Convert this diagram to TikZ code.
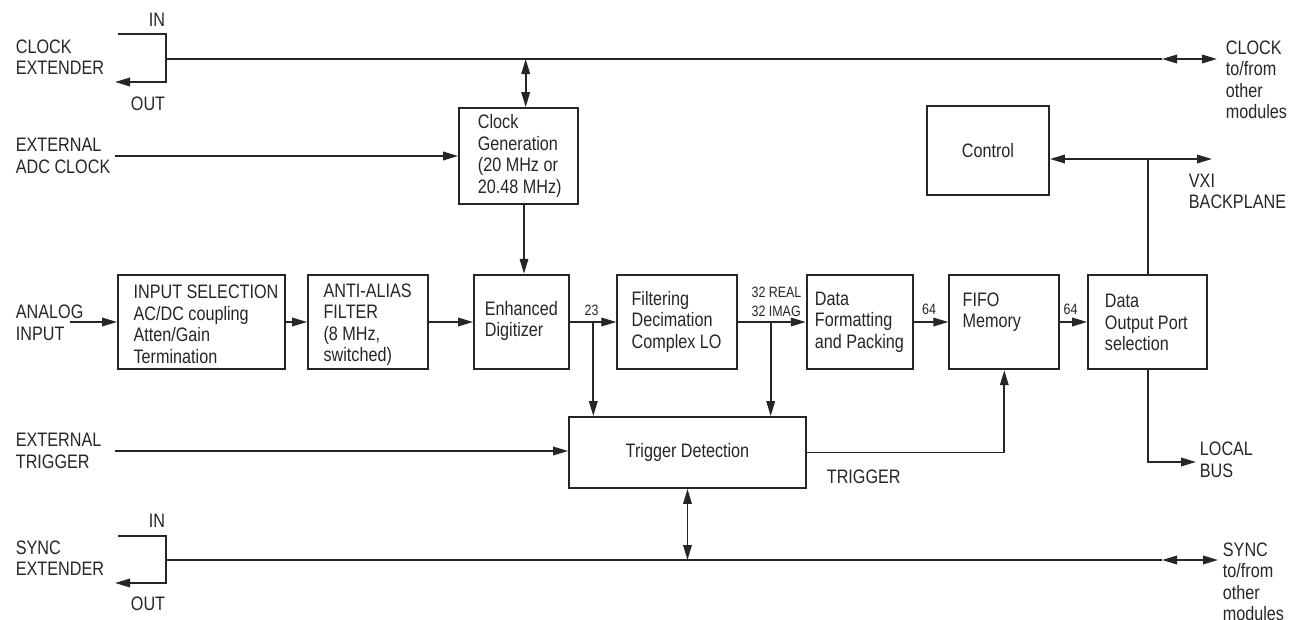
\documentclass[tikz,border=0pt]{standalone}
\usepackage{fontspec}
\setmainfont{Liberation Sans}[FakeStretch=0.83]
\usetikzlibrary{arrows.meta}
\begin{document}
\begin{tikzpicture}[x=1pt,y=-1pt, line width=1.8pt, color=black!85,
  >={Triangle[length=15pt,width=8.5pt]},
  box/.style={draw, line width=1.8pt, inner sep=0pt, anchor=center},
  txt/.style={inner sep=0pt, align=left, anchor=west, font=\fontsize{19.5}{21.5}\selectfont},
  ctxt/.style={inner sep=0pt, align=center, anchor=center, font=\fontsize{19.5}{21.5}\selectfont},
  small/.style={inner sep=0pt, align=left, anchor=center, font=\fontsize{15}{19}\selectfont}]
\useasboundingbox (0,0) rectangle (1293,619);

% boxes
\node[box, minimum width=167, minimum height=94.6] (insel) at (201.5,322) {};
\node[box, minimum width=119.7, minimum height=94.6] (aa) at (367.85,322) {};
\node[box, minimum width=95, minimum height=94.6] (dig) at (521.5,322) {};
\node[box, minimum width=119.4, minimum height=94.6] (filt) at (677,322) {};
\node[box, minimum width=106.6, minimum height=94.6] (fmt) at (860,322) {};
\node[box, minimum width=110, minimum height=94.6] (fifo) at (1004.3,322) {};
\node[box, minimum width=119.3, minimum height=94.6] (dout) at (1147.65,322) {};
\node[box, minimum width=119, minimum height=96] (cg) at (518.5,156) {};
\node[box, minimum width=122, minimum height=89, font=\fontsize{19.5}{21.5}\selectfont] (ctrl) at (988,150.5) {Control};
\node[box, minimum width=237, minimum height=71, font=\fontsize{19.5}{21.5}\selectfont] (trig) at (687.5,452.5) {Trigger Detection};

% box texts
\node[txt] (tinsel) at (132.7,324.5) {INPUT SELECTION\\AC/DC coupling\\Atten/Gain\\Termination};
\node[txt] (taa) at (322.7,324.5) {ANTI-ALIAS\\FILTER\\(8 MHz,\\switched)};
\node[txt] (tdig) at (484,321) {Enhanced\\Digitizer};
\node[txt] (tfilt) at (630.7,321.7) {Filtering\\Decimation\\Complex LO};
\node[txt] (tfmt) at (814,322) {Data\\Formatting\\and Packing};
\node[txt] (tfifo) at (961.7,312.2) {FIFO\\Memory};
\node[txt] (tdout) at (1104,322.5) {Data\\Output Port\\selection};
\node[txt] (tcg) at (477,155.75) {Clock\\Generation\\(20 MHz or\\20.48 MHz)};

% outside labels
\node[txt] (lck) at (15,57) {CLOCK\\EXTENDER};
\node[txt] (ladc) at (15,156) {EXTERNAL\\ADC CLOCK};
\node[txt] (lan) at (15,323) {ANALOG\\INPUT};
\node[txt] (ltr) at (15,451) {EXTERNAL\\TRIGGER};
\node[txt] (lsy) at (15,558) {SYNC\\EXTENDER};
\node[txt] (rck) at (1225,80) {CLOCK\\to/from\\other\\modules};
\node[txt] (rsy) at (1222,582) {SYNC\\to/from\\other\\modules};
\node[txt] (lvxi) at (1188,191.5) {VXI\\BACKPLANE};
\node[txt] (lbus) at (1199,460) {LOCAL\\BUS};
\node[txt] (ltrig) at (826,477) {TRIGGER};
\node[ctxt] (ckin) at (157,20) {IN};
\node[ctxt] (ckout) at (148,104) {OUT};
\node[ctxt] (syin) at (157,521) {IN};
\node[ctxt] (syout) at (148,604) {OUT};
\node[small] (n23) at (591.5,310) {23};
\node[small, anchor=west] (n32) at (750.7,302) {32 REAL\\32 IMAG};
\node[small] (n64a) at (929,309.3) {64};
\node[small] (n64b) at (1070.5,309.3) {64};

% coordinates
\coordinate (ckInL) at (118,34);
\coordinate (ckOutR) at (166,82);
\coordinate (ckOutL) at (115,82);
\coordinate (ckJ) at (166,59);
\coordinate (ckE) at (1162,59);
\coordinate (ckR) at (1217,59);
\coordinate (ckT) at (525.7,59);
\coordinate (cgd) at (524,204);
\coordinate (adcS) at (115,156);
\coordinate (anS) at (70,322);
\coordinate (sp1) at (593.3,322);
\coordinate (sp2) at (770.7,322);
\coordinate (trS) at (115,451);
\coordinate (syInL) at (118,536);
\coordinate (syOutR) at (166,583);
\coordinate (syOutL) at (115,583);
\coordinate (syJ) at (166,560);
\coordinate (syE) at (1162,560);
\coordinate (syR) at (1218,560);
\coordinate (vxR) at (1212,159);
\coordinate (vxJ) at (1148,159);
\coordinate (busE) at (1196,462);

% clock bus
\draw[->] (ckInL) -| (ckOutR) -- (ckOutL);
\draw (ckJ) -- (ckE);
\draw[<->] (ckE) -- (ckR);
\draw[<->] (ckT) -- (ckT |- cg.north);
\draw[->] (cgd) -- (cgd |- dig.north);
\draw[->] (adcS) -- (cg.west);

% signal chain
\draw[->] (anS) -- (insel.west);
\draw[->] (insel.east) -- (aa.west);
\draw[->] (aa.east) -- (dig.west);
\draw[->] (dig.east) -- (filt.west);
\draw[->] (filt.east) -- (fmt.west);
\draw[->] (fmt.east) -- (fifo.west);
\draw[->] (fifo.east) -- (dout.west);
\draw[->] (sp1) -- (sp1 |- trig.north);
\draw[->] (sp2) -- (sp2 |- trig.north);

% trigger
\draw[->] (trS) -- (trS -| trig.west);
\draw[->] (trig.east) -| (fifo.south);
\draw[<->] (trig.south) -- (trig.south |- syJ);

% sync bus
\draw[->] (syInL) -| (syOutR) -- (syOutL);
\draw (syJ) -- (syE);
\draw[<->] (syE) -- (syR);

% control / VXI / local bus
\draw[<->] (vxR -| ctrl.east) -- (vxR);
\draw (vxJ) -- (vxJ |- dout.north);
\draw[->] (dout.south) |- (busE);
\end{tikzpicture}
\end{document}
